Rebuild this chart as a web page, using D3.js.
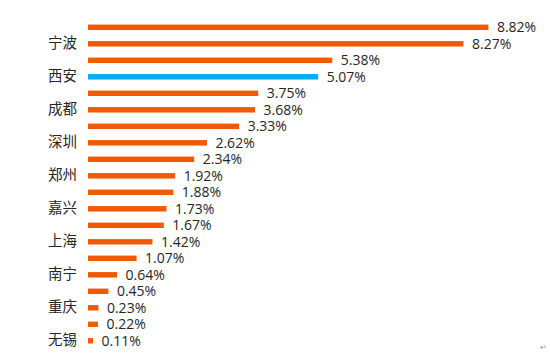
<!DOCTYPE html>
<html>
<head>
<meta charset="utf-8">
<script src="https://cdn.jsdelivr.net/npm/d3@7"></script>
<style>
body { margin: 0; background: #fff; }
</style>
</head>
<body>
<div class="container"></div>
<script>
// values top to bottom, only every other category is labelled in the picture
var values = [8.82, 8.27, 5.38, 5.07, 3.75, 3.68, 3.33, 2.62, 2.34, 1.92,
	1.88, 1.73, 1.67, 1.42, 1.07, 0.64, 0.45, 0.23, 0.22, 0.11];
var tickLabels = ['', '宁波', '', '西安', '', '成都', '', '深圳', '', '郑州',
	'', '嘉兴', '', '上海', '', '南宁', '', '重庆', '', '无锡'];
var highlight = '西安';

const WIDTH = 550;
const HEIGHT = 354;
const LEFT = 88;

var svg = d3.select('.container').append('svg')
	.attr('width', WIDTH)
	.attr('height', HEIGHT)
	.style('font-family', '"Open Sans", "Noto Sans CJK SC", sans-serif');

var idx = d3.range(values.length);

var xScale = d3.scaleLinear()
	.domain([0, 10])
	.range([0, 454]);

var yScale = d3.scaleBand()
	.domain(idx)
	.range([19.05, 349.05])
	.paddingInner(0.67)
	.paddingOuter(0.335);

var yAxis = d3.axisLeft(yScale)
	.tickSize(0)
	.tickPadding(11)
	.tickFormat(function(i){ return tickLabels[i]; });

var ax = svg.append('g')
	.attr('transform', 'translate(' + LEFT + ',0)')
	.call(yAxis);
ax.select('.domain').remove();
ax.selectAll('text')
	.attr('fill', '#262626')
	.style('font-family', '"Noto Sans CJK SC", sans-serif')
	.style('font-size', '14.5px');

var g = svg.append('g')
	.attr('transform', 'translate(' + LEFT + ',0)');

g.selectAll('rect').data(idx)
	.enter().append('rect')
	.attr('x', 0)
	.attr('y', function(i){ return yScale(i); })
	.attr('width', function(i){ return xScale(values[i]); })
	.attr('height', yScale.bandwidth())
	.attr('fill', function(i){ return tickLabels[i] === highlight ? '#00B0F0' : '#F05A05'; });

g.selectAll('text.val').data(idx)
	.enter().append('text')
	.attr('class', 'val')
	.attr('x', function(i){ return xScale(values[i]) + 8.5; })
	.attr('y', function(i){ return yScale(i) + yScale.bandwidth() / 2; })
	.attr('dy', '0.36em')
	.attr('fill', '#262626')
	.style('font-size', '14px')
	.text(function(i){ return values[i].toFixed(2) + '%'; });

// word paragraph mark at the corner
svg.append('text')
	.attr('x', 540)
	.attr('y', 350)
	.attr('fill', '#999')
	.style('font-size', '8px')
	.text('↵');
</script>
</body>
</html>
